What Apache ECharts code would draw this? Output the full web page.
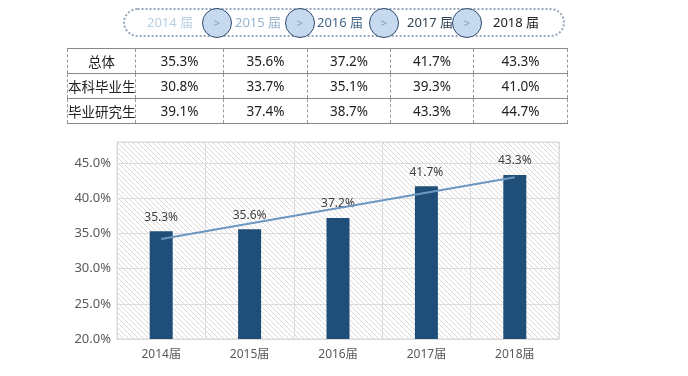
<!DOCTYPE html>
<html>
<head>
<meta charset="utf-8">
<script src="https://cdn.jsdelivr.net/npm/echarts@6/dist/echarts.min.js"></script>
<style>
  html, body { margin: 0; padding: 0; background: #fff; }
  body { width: 688px; height: 376px; position: relative; overflow: hidden;
         font-family: "Noto Sans", "Noto Sans CJK SC", sans-serif; }
  #chart { position: absolute; left: 0; top: 0; width: 688px; height: 376px; }
  .pill { position: absolute; left: 123px; top: 8px; width: 442px; height: 29px;
          border: 2px dotted #97a6b8; border-radius: 15px; box-sizing: border-box; }
  .yr { position: absolute; top: 14px; font-size: 13px; line-height: 16px; white-space: nowrap; }
  .dot { position: absolute; top: 8px; width: 30px; height: 30px; border-radius: 50%;
         border: 1.5px solid #2e4a6e; background: #c6d9ef; box-sizing: border-box;
         color: #7f9cbc; font-size: 11px; line-height: 27px; text-align: center; }
  table { position: absolute; left: 67px; top: 48px; border-collapse: collapse;
          table-layout: fixed; width: 494px; font-size: 13.5px; color: #222; }
  td { height: 24px; padding: 0; text-align: center; white-space: nowrap; overflow: hidden;
       border-left: 1px dashed #999; border-right: 1px dashed #999;
       border-top: 1px solid #888; border-bottom: 1px solid #888; }
</style>
</head>
<body>
<div id="chart"></div>
<div class="pill"></div>
<div id="years"></div>
<table id="tbl"></table>
<script>
// 届别
const years = ['2014届', '2015届', '2016届', '2017届', '2018届']
const headYears = ['2014 届', '2015 届', '2016 届', '2017 届', '2018 届']
// 表格行名
const rowNames = ['总体', '本科毕业生', '毕业研究生']
// 就业率数据（%）
const totalRate = [35.3, 35.6, 37.2, 41.7, 43.3]
const bachelorRate = [30.8, 33.7, 35.1, 39.3, 41.0]
const graduateRate = [39.1, 37.4, 38.7, 43.3, 44.7]
// 趋势线两端
const trendRate = [34.2, null, null, null, 43.0]
// 纵轴刻度
const yMin = 20
const yMax = 48
const yStep = 5

// 顶部届别导航
const yearColors = ['#b9d0e2', '#98b4cc', '#44678a', '#354556', '#222']
const yearLeft = [147, 235, 317, 407, 493]
const dotLeft = [202, 285, 369, 452]
const yearsBox = document.getElementById('years')
headYears.forEach((t, i) => {
  const s = document.createElement('div')
  s.className = 'yr'
  s.style.left = yearLeft[i] + 'px'
  s.style.color = yearColors[i]
  s.textContent = t
  yearsBox.appendChild(s)
})
dotLeft.forEach(x => {
  const d = document.createElement('div')
  d.className = 'dot'
  d.style.left = x + 'px'
  d.textContent = '>'
  yearsBox.appendChild(d)
})

// 数据表
const colWidths = [67, 87, 83, 82, 82, 93]
const tbl = document.getElementById('tbl')
const rows = [totalRate, bachelorRate, graduateRate]
rows.forEach((vals, r) => {
  const tr = document.createElement('tr')
  const th = document.createElement('td')
  th.textContent = rowNames[r]
  th.style.width = colWidths[0] + 'px'
  tr.appendChild(th)
  vals.forEach((v, i) => {
    const td = document.createElement('td')
    td.textContent = v.toFixed(1) + '%'
    td.style.width = colWidths[i + 1] + 'px'
    tr.appendChild(td)
  })
  tbl.appendChild(tr)
})

// 斜线底纹
const pat = document.createElement('canvas')
pat.width = 5
pat.height = 5
const ctx = pat.getContext('2d')
ctx.fillStyle = '#fff'
ctx.fillRect(0, 0, 5, 5)
ctx.strokeStyle = '#dadada'
ctx.lineWidth = 1
ctx.beginPath()
ctx.moveTo(-1, -1); ctx.lineTo(6, 6)
ctx.moveTo(-1, 4); ctx.lineTo(1, 6)
ctx.moveTo(4, -1); ctx.lineTo(6, 1)
ctx.stroke()

const chart = echarts.init(document.getElementById('chart'))
const option = {
  animation: false,
  backgroundColor: 'transparent',
  textStyle: { fontFamily: '"Noto Sans", "Noto Sans CJK SC", sans-serif' },
  grid: {
    left: 117, right: 129, top: 142, bottom: 37,
    show: true,
    backgroundColor: { image: pat, repeat: 'repeat' },
    borderColor: '#d9d9d9', borderWidth: 1
  },
  xAxis: {
    type: 'category',
    data: years,
    axisLine: { lineStyle: { color: '#d9d9d9' } },
    axisTick: { show: false },
    axisLabel: { color: '#595959', fontSize: 12, margin: 10 },
    splitLine: { show: true, lineStyle: { color: '#dcdcdc' } }
  },
  yAxis: {
    type: 'value',
    min: yMin, max: yMax, interval: yStep,
    axisLine: { show: false },
    axisTick: { show: false },
    axisLabel: { color: '#595959', fontSize: 13, margin: 6, showMaxLabel: false,
                 formatter: v => v.toFixed(1) + '%' },
    splitLine: { lineStyle: { color: '#dcdcdc' } }
  },
  series: [
    {
      name: '总体',
      type: 'bar',
      data: totalRate,
      barWidth: 23,
      itemStyle: { color: '#1f4e79' },
      label: { show: true, position: 'top', distance: 8, color: '#404040', fontSize: 12,
               formatter: p => p.value.toFixed(1) + '%' }
    },
    {
      name: '趋势',
      type: 'line',
      data: trendRate,
      connectNulls: true,
      symbol: 'none',
      lineStyle: { color: '#6b97c0', width: 2 }
    }
  ]
}
chart.setOption(option)
</script>
</body>
</html>
